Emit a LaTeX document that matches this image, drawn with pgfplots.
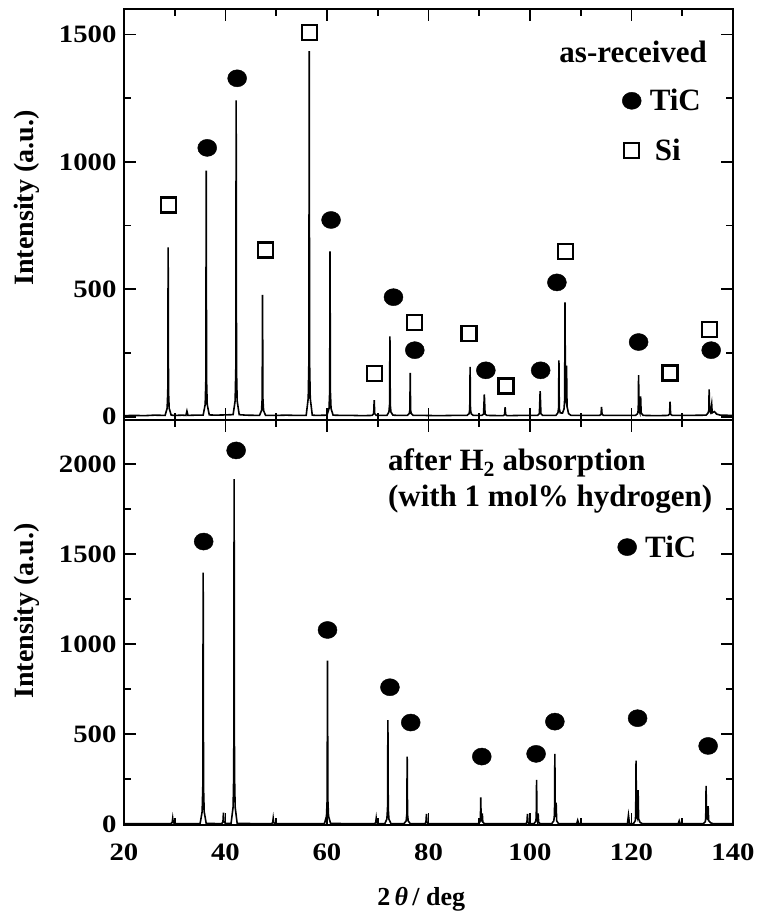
\documentclass[border=0pt]{standalone}
\usepackage{fontspec}
\setmainfont{Liberation Serif}
\newfontfamily\tickfont[FakeStretch=1.15]{Liberation Serif}
\usepackage{pgfplots}
\usepackage{pgfplotstable}
\pgfplotsset{compat=1.18}

\pgfplotstableread{
x y
20 4
22 5
24 4
26 6
28.1 5
28.5 33
28.63 100
28.7 664
28.77 100
28.9 33
29.3 6
30 5
31.5 6
32.2 5
32.4 22
32.6 5
34 6
35.6 6
36.0 48
36.13 145
36.2 966
36.27 145
36.4 48
36.8 7
38 6
40 7
41.5 8
41.9 62
42.03 186
42.1 1241
42.17 186
42.3 62
42.7 8
44 6
46.7 5
47.1 24
47.23 72
47.3 478
47.37 72
47.5 24
47.9 5
50 5
52 6
54 5
55.9 5
56.3 72
56.43 215
56.5 1435
56.57 215
56.7 72
57.1 6
58 5
60.0 6
60.4 32
60.53 97
60.6 649
60.67 97
60.8 32
61.2 6
63 5
65 5
67 4
68.9 5
69.2 12
69.3 65
69.4 12
69.7 5
71.8 5
72.2 18
72.33 47
72.4 315
72.47 47
72.6 18
73.0 6
74 5
75.8 5
76.2 12
76.33 26
76.4 172
76.47 26
76.6 12
77.0 5
79 5
82 4
85 5
87.6 5
88.0 12
88.13 29
88.2 195
88.27 29
88.4 12
88.8 5
90.5 5
90.85 10
91.0 87
91.15 10
91.5 5
94.7 4
95.0 8
95.1 37
95.2 8
95.5 4
98 5
101.5 5
101.85 12
102.0 100
102.15 12
102.5 5
105.1 5
105.5 15
105.63 33
105.7 221
105.77 33
105.95 15
106.4 14
106.7 30
106.83 67
106.9 449
106.98 70
107.1 60
107.2 200
107.3 40
107.6 12
108.1 5
110 5
113.7 5
114.0 9
114.1 38
114.2 9
114.5 5
117 5
120.8 5
121.2 12
121.33 25
121.4 163
121.47 25
121.65 15
121.8 80
121.9 15
122.3 5
125 4
127.2 5
127.5 10
127.6 59
127.7 10
128.0 5
131 5
134.7 6
135.1 15
135.23 25
135.3 107
135.37 25
135.55 18
135.8 50
135.9 15
136.3 20
136.8 10
137.5 6
140 5
}\topspec

\pgfplotstableread{
x y
36.4 1055
42.3 1328
60.8 772
73.1 469
77.3 261
91.3 182
102.1 182
105.3 527
121.4 293
135.7 261
}\topTiC

\pgfplotstableread{
x y
28.7 831
47.9 654
56.5 1507
69.3 170
77.3 371
88.0 326
95.3 120
107.0 648
127.6 172
135.3 341
}\topSi

\pgfplotstableread{
x y
20 3
24 4
27 3
29.2 3
29.5 10
29.6 33
29.7 10
30.0 3
33 3
35.0 4
35.4 70
35.53 210
35.6 1398
35.67 210
35.8 70
36.2 5
38 4
39.3 4
39.5 15
39.6 64
39.7 15
40.0 4
41.1 5
41.5 96
41.63 288
41.7 1917
41.77 288
41.9 96
42.3 5
45 4
49.1 4
49.3 10
49.4 33
49.5 10
49.7 4
53 3
57 4
59.5 4
59.9 45
60.03 136
60.1 909
60.17 136
60.3 45
60.7 5
65 3
69.4 3
69.6 10
69.7 33
69.8 10
70.0 3
71.4 4
71.8 29
71.93 87
72.0 579
72.07 87
72.2 29
72.6 4
75.2 4
75.6 19
75.73 56
75.8 376
75.87 56
76.0 19
76.4 4
79.3 3
79.5 12
79.6 57
79.7 12
79.9 3
85 3
89.8 4
90.1 12
90.23 25
90.3 150
90.37 25
90.5 20
90.6 60
90.7 12
91.0 4
95 3
99.2 3
99.4 12
99.5 57
99.6 12
99.8 3
100.8 4
101.1 15
101.23 35
101.3 246
101.37 35
101.5 15
101.6 60
101.7 12
102 4
104.3 4
104.7 20
104.83 58
104.9 391
104.97 58
105.05 40
105.15 120
105.25 20
105.6 4
109.2 3
109.4 22
109.6 3
114 3
119.2 3
119.4 50
119.6 4
120.4 4
120.75 20
120.83 53
120.9 354
120.97 53
121.1 40
121.2 100
121.3 190
121.4 30
121.7 10
122.1 4
126 3
129.2 3
129.4 20
129.6 3
134.2 4
134.55 15
134.63 35
134.7 213
134.77 35
134.95 30
135.1 100
135.2 20
135.6 8
136 4
140 3
}\botspec

\pgfplotstableread{
x y
35.7 1570
42.1 2076
60.1 1079
72.4 761
76.5 565
90.5 376
101.2 391
104.9 570
121.2 589
135.1 435
}\botTiC

\pgfplotsset{
  xrdaxis/.style={
    scale only axis, width=609pt,
    xmin=20, xmax=140,
    xtick={20,40,...,140}, minor x tick num=1, minor y tick num=1,
    tick align=inside,
    axis line style={line width=2.4pt},
    every tick/.style={line width=1.8pt, black},
    major tick length=12pt, minor tick length=7pt,
    /pgf/number format/assume math mode=true,
    /pgf/number format/1000 sep={},
    scaled y ticks=false,
    ticklabel style={font=\tickfont\bfseries\fontsize{25}{29}\selectfont},
    yticklabel style={xshift=-4pt},
    xticklabel style={yshift=-15pt},
    label style={font=\bfseries\fontsize{28}{32}\selectfont},
    legend style={draw=none, fill=none, inner sep=0pt,
      font=\bfseries\fontsize{31}{35}\selectfont, row sep=23pt,
      column sep=6pt, nodes={inner sep=2pt}},
    legend cell align=left,
    legend image code/.code={\path[draw=none, fill=none] (0pt,-9pt) rectangle (20pt,9pt);
      \draw[##1] plot coordinates {(10pt,0pt)};},
    tic/.style={only marks, mark=*, mark size=9.5pt, mark options={yscale=0.9, fill=black, draw=black}},
    sii/.style={only marks, mark=square, mark size=7.5pt, mark options={line width=2.3pt, fill=white, draw=black}},
  }
}

\begin{document}
\begin{tikzpicture}
\begin{axis}[xrdaxis, at={(0pt,405pt)}, anchor=south west, height=411pt,
  ymin=-13, ymax=1600, ytick={0,500,1000,1500}, xticklabels={},
  ylabel={Intensity (a.u.)},
  ylabel style={at={(axis description cs:-0.159,0.54)}, anchor=center},
  legend style={at={(axis description cs:0.817,0.81)}, anchor=north west}]
\addplot[black, line width=1.6pt, forget plot] table {\topspec};
\addplot[tic] table {\topTiC};
\addlegendentry{TiC}
\addplot[sii] table {\topSi};
\addlegendentry{\,Si}
\node[anchor=base east, font=\bfseries\fontsize{31}{35}\selectfont, inner sep=0pt] at (axis cs:134.9,1389) {as-received};
\end{axis}
\begin{axis}[xrdaxis, at={(0pt,0pt)}, anchor=south west, height=405pt,
  ymin=-4, ymax=2245, ytick={0,500,...,2000},
  ylabel={Intensity (a.u.)},
  ylabel style={at={(axis description cs:-0.159,0.528)}, anchor=center},
  xlabel={2\,\textit{θ}\,/ deg},
  xlabel style={at={(axis description cs:0.488,-0.198)}, anchor=base, font=\bfseries\fontsize{26}{30}\selectfont},
  legend style={at={(axis description cs:0.8095,0.72)}, anchor=north west}]
\addplot[black, line width=1.6pt, forget plot] table {\botspec};
\addplot[tic] table {\botTiC};
\addlegendentry{TiC}
\node[anchor=base west, font=\bfseries\fontsize{31}{35}\selectfont, inner sep=0pt] at (axis cs:72.0,1963) {after H\textsubscript{2} absorption};
\node[anchor=base west, font=\bfseries\fontsize{31}{35}\selectfont, inner sep=0pt] at (axis cs:72.0,1763) {(with 1 mol\% hydrogen)};
\end{axis}
\pgfresetboundingbox
\path (-124pt,-86pt) rectangle (634pt,825pt);
\end{tikzpicture}
\end{document}
